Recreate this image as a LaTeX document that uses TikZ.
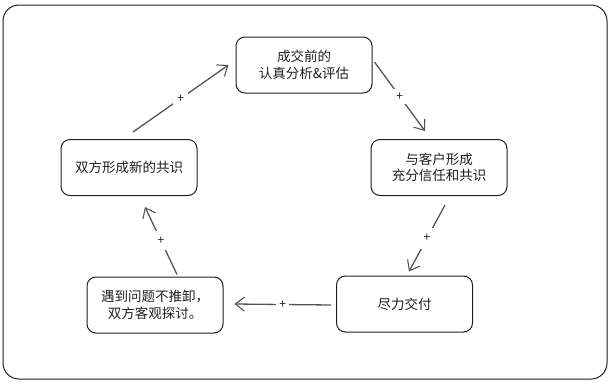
\documentclass[tikz,border=0pt]{standalone}
\usepackage{fontspec}
\setmainfont{Noto Sans CJK SC}
\usetikzlibrary{arrows.meta,calc}
\definecolor{ink}{HTML}{1E1E1E}
\definecolor{arr}{HTML}{555555}
\tikzset{
  card/.style={draw=ink, line width=1pt, rounded corners=9pt, minimum width=136pt, minimum height=56pt,
    inner sep=0pt, align=center, text=ink, font=\fontsize{13.5}{16.5}\selectfont},
  flow/.style={draw=arr, line width=1.3pt, -{Straight Barb[length=9pt,width=14pt,line width=1.1pt]}},
  plus/.style={fill=white, inner sep=4pt, text=ink, font=\fontsize{12}{14}\selectfont}
}
\begin{document}
\begin{tikzpicture}[x=1pt,y=-1pt]
\useasboundingbox (0,0) rectangle (610,383);
\draw[draw=ink, line width=1pt, rounded corners=16pt] (3,5) rectangle (607,379);
\node[card] (n1) at (304,65) {成交前的\\认真分析\&评估};
\node[card] (n2) at (439,167.5) {与客户形成\\充分信任和共识};
\node[card] (n3) at (404.5,304) {尽力交付};
\node[card] (n4) at (155,305) {遇到问题不推卸，\\双方客观探讨。};
\node[card] (n5) at (129,167.5) {双方形成新的共识};
\draw[flow] ($(n1.east)+(2,-3)$) -- node[plus] {+} ($(n2.north)+(-14,-8)$);
\draw[flow] ($(n2.south)+(6,9)$) -- node[plus, inner sep=7pt] {+} ($(n3.north)+(4.5,-4)$);
\draw[flow] ($(n3.west)+(-5,1)$) -- node[plus, inner sep=3pt] {+} ($(n4.east)+(11,-1)$);
\draw[flow] ($(n4.north)+(22,-2)$) -- node[plus, inner sep=6pt] {+} ($(n5.south)+(16,11)$);
\draw[flow] ($(n5.north)+(4,-7)$) -- node[plus] {+} ($(n1.west)+(-7,0)$);
\end{tikzpicture}
\end{document}
